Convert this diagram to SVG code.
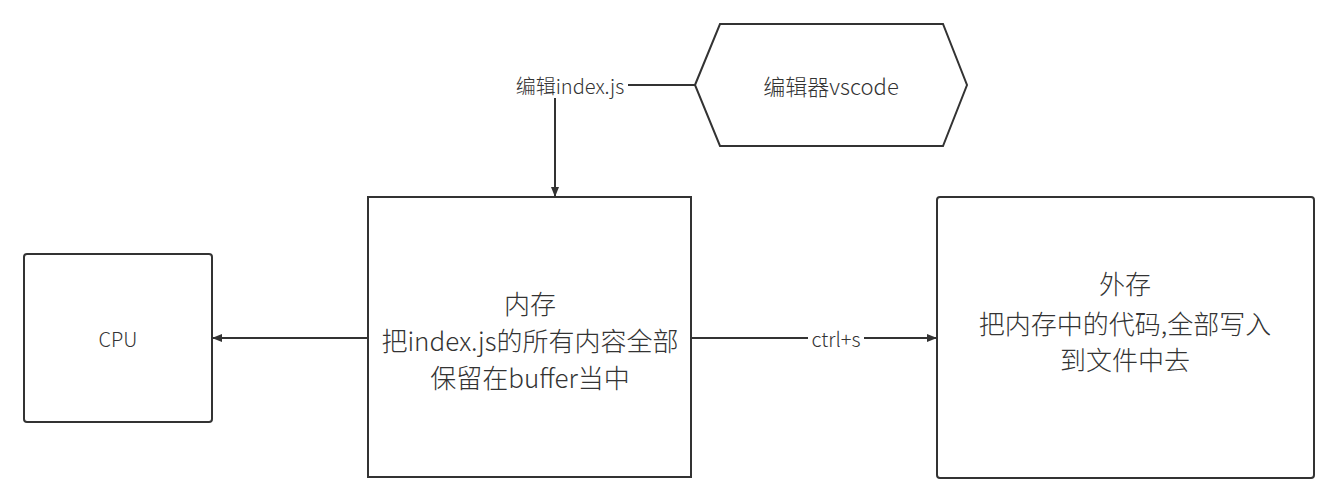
<svg xmlns="http://www.w3.org/2000/svg" width="1339" height="503" viewBox="0 0 1339 503">
<style>
.shape{fill:#fff;stroke:#333;stroke-width:2}
.t{font-family:"Noto Sans CJK SC","Noto Sans",sans-serif;font-weight:300;fill:#333;text-anchor:middle;dominant-baseline:central}
.big{font-size:26px}
.mid{font-size:20px}
.hex{font-size:22px}
.lbl{font-size:20px}
.edge{fill:none;stroke:#333;stroke-width:2}
</style>
<defs>
<marker id="arr" viewBox="0 0 10 10" refX="10" refY="5" markerWidth="10" markerHeight="10" markerUnits="userSpaceOnUse" orient="auto">
<path d="M0,1 L10,5 L0,9 Z" fill="#333"/>
</marker>
</defs>
<rect width="1339" height="503" fill="#fff"/>
<g id="editor">
<polygon class="shape" points="695,85 720,24 943,24 967,85 943,146 720,146"/>
<text class="t hex" x="831" y="85">编辑器vscode</text>
</g>
<g id="cpu">
<rect class="shape" x="24" y="254" width="188" height="168" rx="3"/>
<text class="t mid" x="118" y="338">CPU</text>
</g>
<g id="memory">
<rect class="shape" x="368" y="197" width="323" height="280"/>
<text class="t big" x="530" y="302">内存</text>
<text class="t big" x="530" y="339">把index.js的所有内容全部</text>
<text class="t big" x="530" y="376">保留在buffer当中</text>
</g>
<g id="storage">
<rect class="shape" x="937" y="197" width="377" height="281" rx="3"/>
<text class="t big" x="1125" y="282">外存</text>
<text class="t big" x="1125" y="322">把内存中的代码,全部写入</text>
<text class="t big" x="1125" y="358">到文件中去</text>
</g>
<g id="connectors">
<path class="edge" d="M695,85 L628,85"/>
<path class="edge" d="M555,98 L555,197" marker-end="url(#arr)"/>
<text class="t lbl" x="570" y="85">编辑index.js</text>
<path class="edge" d="M368,338 L212,338" marker-end="url(#arr)"/>
<path class="edge" d="M691,338 L808,338 M864,338 L937,338" marker-end="url(#arr)"/>
<text class="t lbl" x="836" y="338">ctrl+s</text>
</g>
</svg>
